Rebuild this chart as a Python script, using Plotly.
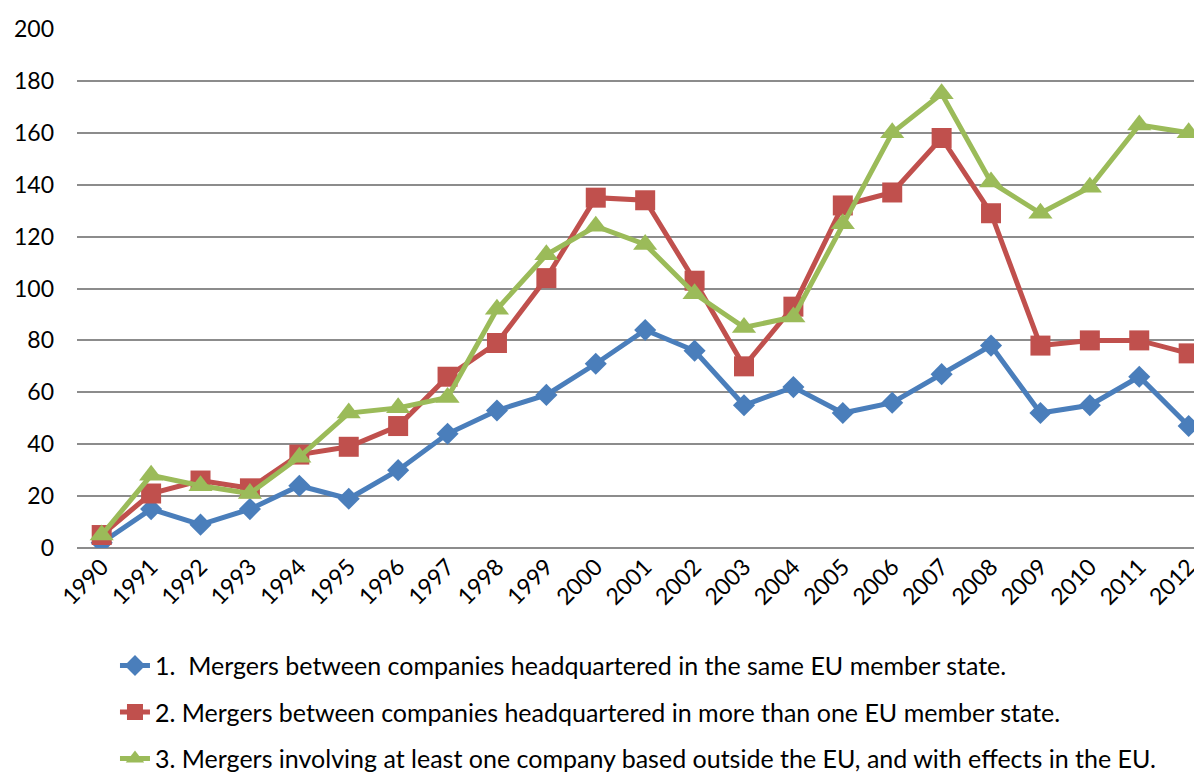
import plotly.graph_objects as go

years = list(range(1990, 2013))
same_state = [2, 15, 9, 15, 24, 19, 30, 44, 53, 59, 71, 84, 76, 55, 62, 52, 56, 67, 78, 52, 55, 66, 47]
multi_state = [5, 21, 26, 23, 36, 39, 47, 66, 79, 104, 135, 134, 103, 70, 93, 132, 137, 158, 129, 78, 80, 80, 75]
outside_eu = [5, 28, 24, 21, 35, 52, 54, 58, 92, 113, 124, 117, 98, 85, 89, 125, 160, 175, 141, 129, 139, 163, 160]

names = [
    "1.\u00a0\u00a0Mergers between companies headquartered in the same EU member state.",
    "2. Mergers between companies headquartered in more than one EU member state.",
    "3. Mergers involving at least one company based outside the EU, and with effects in the EU.",
]
colors = ["#4A7EBB", "#C0504D", "#9BBB59"]
symbols = ["diamond", "square", "triangle-up"]
sizes = [17, 20, 21]
series = [same_state, multi_state, outside_eu]

FONT = "Lato"
fig = go.Figure()
for i, (vals, name) in enumerate(zip(series, names)):
    fig.add_trace(go.Scatter(
        x=years, y=vals, name=name, mode="lines+markers",
        line=dict(color=colors[i], width=5),
        marker=dict(symbol=symbols[i], size=sizes[i], color=colors[i]),
        legendgroup=f"g{i}",
    ))

fig.update_layout(
    width=1194, height=768,
    margin=dict(l=69, r=0, t=21, b=228, autoexpand=False),
    paper_bgcolor="white", plot_bgcolor="white",
    font=dict(family=FONT, size=23, color="black"),
    showlegend=True,
    legend=dict(
        xref="container", yref="container",
        x=0.0896, y=0.1735, xanchor="left", yanchor="top",
        orientation="v", tracegroupgap=11,
        font=dict(family=FONT, size=25, color="black"),
        bgcolor="rgba(0,0,0,0)",
    ),
)
fig.update_xaxes(
    range=[1989.5, 2012.27], tickmode="array", tickvals=years,
    ticktext=[str(y) for y in years], tickangle=-45,
    showgrid=False, showline=False, zeroline=False, ticks="",
    tickfont=dict(family=FONT, size=23), automargin=False,
)
fig.update_yaxes(
    range=[0, 200], tickmode="linear", tick0=0, dtick=20,
    showgrid=True, gridcolor="#8C8C8C", gridwidth=1.5,
    zeroline=True, zerolinecolor="#8C8C8C", zerolinewidth=1.5,
    showline=False, ticks="", ticklabelstandoff=22,
    tickfont=dict(family=FONT, size=23), automargin=False,
)

fig.write_html("out.html")
